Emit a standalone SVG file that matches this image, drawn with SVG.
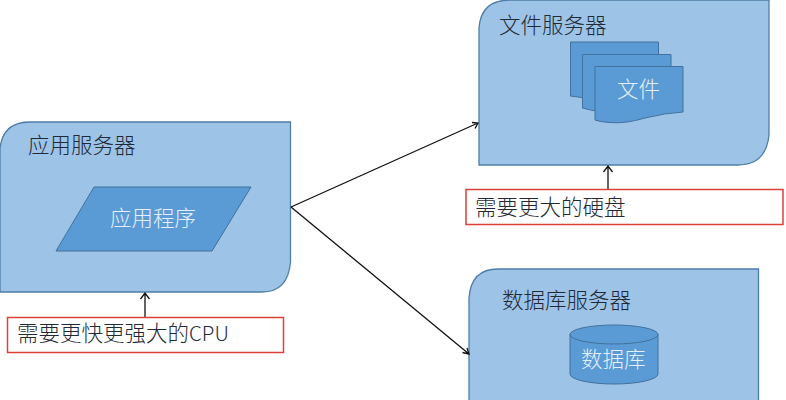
<svg xmlns="http://www.w3.org/2000/svg" width="786" height="400" viewBox="0 0 786 400">
<style>
text{font-family:"Noto Sans CJK SC","Liberation Sans",sans-serif;font-size:21.5px;font-weight:300}
.dark{fill:#1f2a36}
.light{fill:#e4eff9}
.srv{fill:#9dc3e6;stroke:#4f7ea8;stroke-width:1.3}
.in{fill:#5b9bd5;stroke:#41719c;stroke-width:1}
.note{fill:#fff;stroke:#e0403a;stroke-width:1.5}
.c{fill:none;stroke:#111;stroke-width:1.3}
</style>
<rect width="786" height="400" fill="#fff"/>
<g id="app-server">
<path class="srv" d="M0 292V148Q3 122 30 122H290.500V262Q288 292 262 292Z"/>
<text class="dark" x="28" y="153">应用服务器</text>
</g>
<g id="app">
<path class="in" d="M94 187H251L212 251H56Z"/>
<text class="light" x="110" y="226">应用程序</text>
</g>
<g id="file-server">
<path class="srv" d="M479 165V28Q481 0 510 0H769V135Q766 165 738 165Z"/>
<text class="dark" x="499" y="33">文件服务器</text>
</g>
<g id="file">
<path class="in" d="M570.500 42H658.500V88H600V100Q585 98 570.500 96Z"/>
<path class="in" d="M582.500 54.500H671V100H600V112Q590 110 582.500 108Z"/>
<path class="in" d="M595 66.500H683V112Q665 113 645 118Q625 124 610 122.500Q600 122 595 120Z"/>
<text class="light" x="617" y="97">文件</text>
</g>
<g id="db-server">
<path class="srv" d="M469 400V298Q471 269 498 269H758.500V400"/>
<text class="dark" x="502" y="308">数据库服务器</text>
</g>
<g id="db">
<path class="in" d="M570 334V374A44 10 0 0 0 658 374V334Z"/>
<ellipse class="in" cx="614" cy="334.500" rx="44" ry="9.500"/>
<text class="light" x="581" y="367">数据库</text>
</g>
<g id="connectors">
<path class="c" d="M291 207L478 123M472 122.500L478 123L475 128.500"/>
<path class="c" d="M291 207L469 354M462.500 352.500L469 354L467 348"/>
<path class="c" d="M608 189V166M603.500 172L608 166L612.500 172"/>
<path class="c" d="M145 317V293M140.500 299L145 293L149.500 299"/>
</g>
<g id="note-cpu">
<rect class="note" x="7.500" y="317.500" width="276" height="35"/>
<text class="dark" x="17" y="341">需要更快更强大的<tspan font-size="20.500">CPU</tspan></text>
</g>
<g id="note-disk">
<rect class="note" x="466" y="189.500" width="317" height="35"/>
<text class="dark" x="475" y="215">需要更大的硬盘</text>
</g>
</svg>
